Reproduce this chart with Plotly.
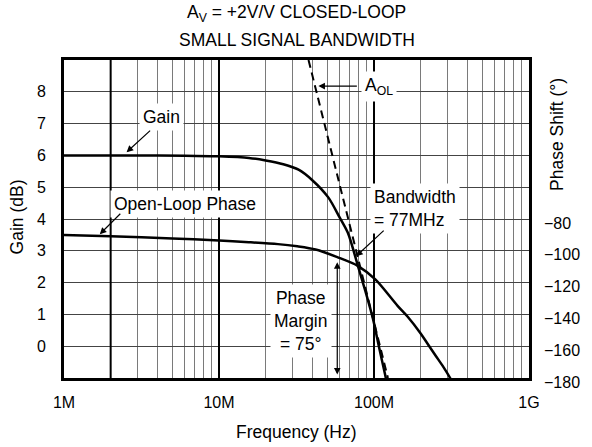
import plotly.graph_objects as go

# ---- data ----
gain_freq_hz = [1e6, 3e6, 6e6, 10e6, 15.6e6, 20e6, 26e6, 32.6e6, 40e6, 50.7e6, 60e6, 68e6, 79e6, 88e6, 98.6e6, 108e6, 118e6, 124e6]
gain_db = [6.0, 6.0, 5.99, 5.97, 5.92, 5.84, 5.72, 5.55, 5.22, 4.68, 4.05, 3.55, 2.5, 1.73, 0.85, -0.05, -0.9, -1.4]

aol_freq_hz = [37.8e6, 123e6]
aol_db = [9.0, -1.0]

phase_freq_hz = [1e6, 2e6, 5e6, 10e6, 15.6e6, 24e6, 32e6, 42e6, 58e6, 79e6, 102e6, 142e6, 165e6, 200e6, 220e6, 250e6, 280e6, 310e6, 330e6]
phase_deg = [-90, -90.8, -92.2, -93.6, -94.6, -95.8, -97.2, -99.2, -104, -109.6, -118, -134.6, -141.5, -152, -158, -166, -173, -180, -185]

decade_ticks = [1e6, 1e7, 1e8, 1e9]
decade_labels = ["1M", "10M", "100M", "1G"]
major_grid_freqs = [2e6, 1e7, 1e8]
gain_ticks = [0, 1, 2, 3, 4, 5, 6, 7, 8]
phase_ticks = [-80, -100, -120, -140, -160, -180]
phase_labels = ["\u221280", "\u2212100", "\u2212120", "\u2212140", "\u2212160", "\u2212180"]

FONT = "Liberation Sans, Arial, sans-serif"
FS = 16     # tick labels
FT = 17.5   # titles and in-plot labels

# minor grid positions 1..9 per decade
minor_vals = []
minor_text = []
for d in [1e6, 1e7, 1e8]:
    for m in range(1, 10):
        minor_vals.append(d * m)
        minor_text.append(decade_labels[decade_ticks.index(d)] if m == 1 else "")
minor_vals.append(1e9)
minor_text.append("1G")

fig = go.Figure()

# thick major vertical grid lines
gx, gy = [], []
for f in major_grid_freqs:
    gx += [f, f, None]
    gy += [-1, 9, None]
fig.add_trace(go.Scatter(x=gx, y=gy, mode="lines", line=dict(color="black", width=2),
                         hoverinfo="skip", showlegend=False))

fig.add_trace(go.Scatter(x=gain_freq_hz, y=gain_db, mode="lines",
                         line=dict(color="black", width=2.5, shape="spline", smoothing=0.8),
                         showlegend=False))
fig.add_trace(go.Scatter(x=aol_freq_hz, y=aol_db, mode="lines",
                         line=dict(color="black", width=2, dash="8px,5px"),
                         showlegend=False))
fig.add_trace(go.Scatter(x=phase_freq_hz, y=phase_deg, mode="lines", yaxis="y2",
                         line=dict(color="black", width=2.5, shape="spline", smoothing=0.8),
                         showlegend=False))

fig.update_layout(
    width=592, height=447,
    margin=dict(l=64, r=60, t=60, b=69),
    paper_bgcolor="white", plot_bgcolor="white",
    font=dict(family=FONT, size=FS, color="black"),
    xaxis=dict(type="log", range=[6, 9], tickmode="array", tickvals=minor_vals, ticktext=minor_text,
               showgrid=True, gridcolor="#7a7a7a", gridwidth=1, ticks="",
               showline=True, linecolor="black", linewidth=3, mirror=True,
               zeroline=False, ticklabelstandoff=8, tickfont=dict(size=FS)),
    yaxis=dict(range=[-1, 9], tickmode="array", tickvals=gain_ticks,
               showgrid=True, gridcolor="#444444", gridwidth=1, ticks="",
               showline=True, linecolor="black", linewidth=3, mirror=True,
               zeroline=False, ticklabelstandoff=12, tickfont=dict(size=FS)),
    yaxis2=dict(range=[-180, 20], overlaying="y", side="right", tickmode="array",
                tickvals=phase_ticks, ticktext=phase_labels, showgrid=False, zeroline=False,
                showline=False, ticks="", ticklabelstandoff=14, ticklabelshift=4,
                tickfont=dict(size=FS)),
)

ann = []
# titles
ann.append(dict(text="A<sub>V</sub> = +2V/V CLOSED-LOOP", xref="paper", yref="paper", x=0.5, y=1.1447,
                xanchor="center", yanchor="middle", showarrow=False, font=dict(size=FT)))
ann.append(dict(text="SMALL SIGNAL BANDWIDTH", xref="paper", yref="paper", x=0.5, y=1.0629,
                xanchor="center", yanchor="middle", showarrow=False, font=dict(size=FT)))
ann.append(dict(text="Frequency (Hz)", xref="paper", yref="paper", x=0.5, y=-0.17,
                xanchor="center", yanchor="middle", showarrow=False, font=dict(size=FT)))
ann.append(dict(text="Gain (dB)", xref="paper", yref="paper", x=-0.1004, y=0.506, textangle=-90,
                xanchor="center", yanchor="middle", showarrow=False, font=dict(size=FT)))
ann.append(dict(text="Phase Shift (°)", xref="paper", yref="paper", x=1.0598, y=0.767, textangle=-90,
                xanchor="center", yanchor="middle", showarrow=False, font=dict(size=FT)))

# labels inside plot (white backgrounds break the grid)
def label(text, lx, ly, xanchor="center", align="center"):
    ann.append(dict(text=text, xref="x", yref="y", x=lx, y=ly, xanchor=xanchor, yanchor="middle",
                    align=align, showarrow=False, bgcolor="white", borderpad=3, font=dict(size=FT)))

def arrow(tx, ty, dx, dy):
    ann.append(dict(text="", xref="x", yref="y", x=tx, y=ty, ax=dx, ay=dy, showarrow=True,
                    arrowhead=2, arrowsize=1.1, arrowwidth=1.2, arrowcolor="black"))

label("Gain", 6.628, 7.2)
arrow(6.404, 6.1, 25, -23)
label("Open-Loop Phase", 6.782, 4.47)
arrow(6.231, 3.52, 22, -22)
label("A<sub>OL</sub>", 8.032, 8.18)
arrow(7.641, 8.18, 40, 0)
label("Bandwidth<br>= 77MHz", 7.975, 4.34, xanchor="left", align="left")
arrow(7.885, 2.83, 29, -27)
label("Phase<br>Margin<br>= 75°", 7.532, 0.79)
ann.append(dict(text="", xref="x", yref="y", axref="x", ayref="y", x=7.763, y=2.64, ax=7.763, ay=-0.94,
                showarrow=True, arrowhead=2, arrowside="end+start", arrowsize=1.1, arrowwidth=1.2,
                arrowcolor="black"))

fig.update_layout(annotations=ann)
fig.write_html("out.html", config={"displayModeBar": False},
               post_script="document.body.style.margin='0';document.body.style.padding='0';")
